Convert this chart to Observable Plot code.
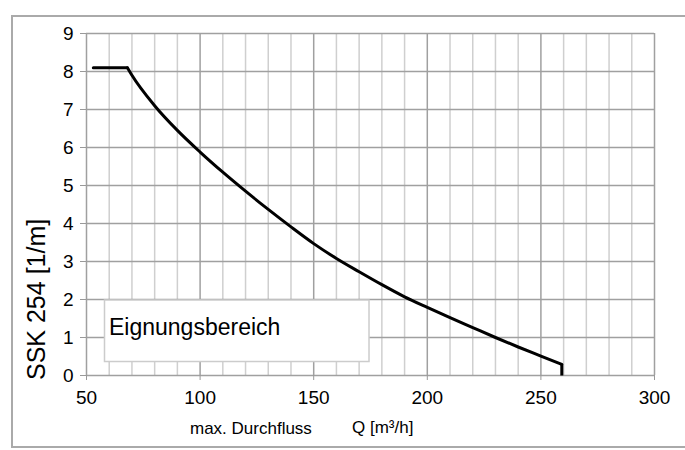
<!DOCTYPE html>
<html><head><meta charset="utf-8">
<script src="https://cdn.jsdelivr.net/npm/d3@7"></script>
<script src="https://cdn.jsdelivr.net/npm/@observablehq/plot@0.6"></script>
<style>body{margin:0;background:#fff} svg{font-family:"Liberation Sans",Arial,sans-serif}</style>
</head><body><div id="chart"></div><script>
const flowQ = [53, 68, 70, 80, 90, 100, 110, 120, 130, 140, 150, 160, 170, 180, 190, 200, 210, 220, 230, 240, 250, 259.2, 259.2];
const ssk   = [8.1, 8.1, 7.9, 7.1, 6.45, 5.88, 5.35, 4.85, 4.37, 3.91, 3.47, 3.08, 2.73, 2.39, 2.07, 1.79, 1.52, 1.26, 1.0, 0.75, 0.51, 0.29, 0];
const xMajorTicks = [50, 100, 150, 200, 250, 300];
const xMinorTicks = [60, 70, 80, 90, 110, 120, 130, 140, 160, 170, 180, 190, 210, 220, 230, 240, 260, 270, 280, 290];
const yTicks = [0, 1, 2, 3, 4, 5, 6, 7, 8, 9];
const yTitle = "SSK 254 [1/m]";
const xTitleLeft = "max. Durchfluss";
const xTitleRight = "Q [m³/h]";
const legendLabel = "Eignungsbereich";

const pts = flowQ.map((q, i) => ({q, s: ssk[i]}));
const flat = pts.slice(0, 2);
const bend = pts.slice(1, pts.length - 1);
const drop = pts.slice(pts.length - 2);
const lineStyle = {x: "q", y: "s", stroke: "#000", strokeWidth: 3, strokeLinecap: "round"};

const plot = Plot.plot({
  width: 685, height: 450,
  marginLeft: 86, marginRight: 31, marginTop: 33, marginBottom: 75,
  x: {domain: [50, 300]},
  y: {domain: [0, 9]},
  style: {fontFamily: '"Liberation Sans", Arial, sans-serif', background: "white", color: "#000", overflow: "visible"},
  marks: [
    Plot.ruleX(xMinorTicks, {stroke: "#cfcfcf", strokeWidth: 1.5}),
    Plot.ruleX(xMajorTicks, {stroke: "#a0a0a0", strokeWidth: 1.5}),
    Plot.ruleY(yTicks, {stroke: "#a0a0a0", strokeWidth: 1.5}),
    Plot.axisX({ticks: xMajorTicks, tickSize: 5, tickPadding: 10, fontSize: 19, stroke: "#999", fill: "#000", label: null, tickFormat: d => String(d)}),
    Plot.axisY({ticks: yTicks, tickSize: 6, tickPadding: 7, fontSize: 19, stroke: "#999", fill: "#000", label: null, tickFormat: d => String(d)}),
    Plot.line(flat, {...lineStyle, curve: "linear"}),
    Plot.line(bend, {...lineStyle, curve: "monotone-x"}),
    Plot.line(drop, {...lineStyle, curve: "linear", strokeLinecap: "butt"})
  ]
});
document.getElementById("chart").appendChild(plot);

const svg = d3.select(plot);
svg.append("rect").attr("x", 12).attr("y", 16).attr("width", 700).attr("height", 431)
  .attr("fill", "none").attr("stroke", "#aaa").attr("stroke-width", 2);
svg.append("rect").attr("x", 104.5).attr("y", 300).attr("width", 264.5).attr("height", 61.5)
  .attr("fill", "#fff").attr("stroke", "#ccc").attr("stroke-width", 1.5);
const addText = (x, y, size, str, transform) => {
  const t = svg.append("text").attr("text-anchor", "start").attr("font-size", size).attr("fill", "#000").text(str);
  if (transform) t.attr("transform", transform); else t.attr("x", x).attr("y", y);
  return t;
};
addText(109, 335, 23, legendLabel);
addText(0, 0, 25, yTitle, "translate(45,380) rotate(-90)");
addText(190, 434, 17, xTitleLeft);
addText(352, 433, 17, xTitleRight);
</script></body></html>
